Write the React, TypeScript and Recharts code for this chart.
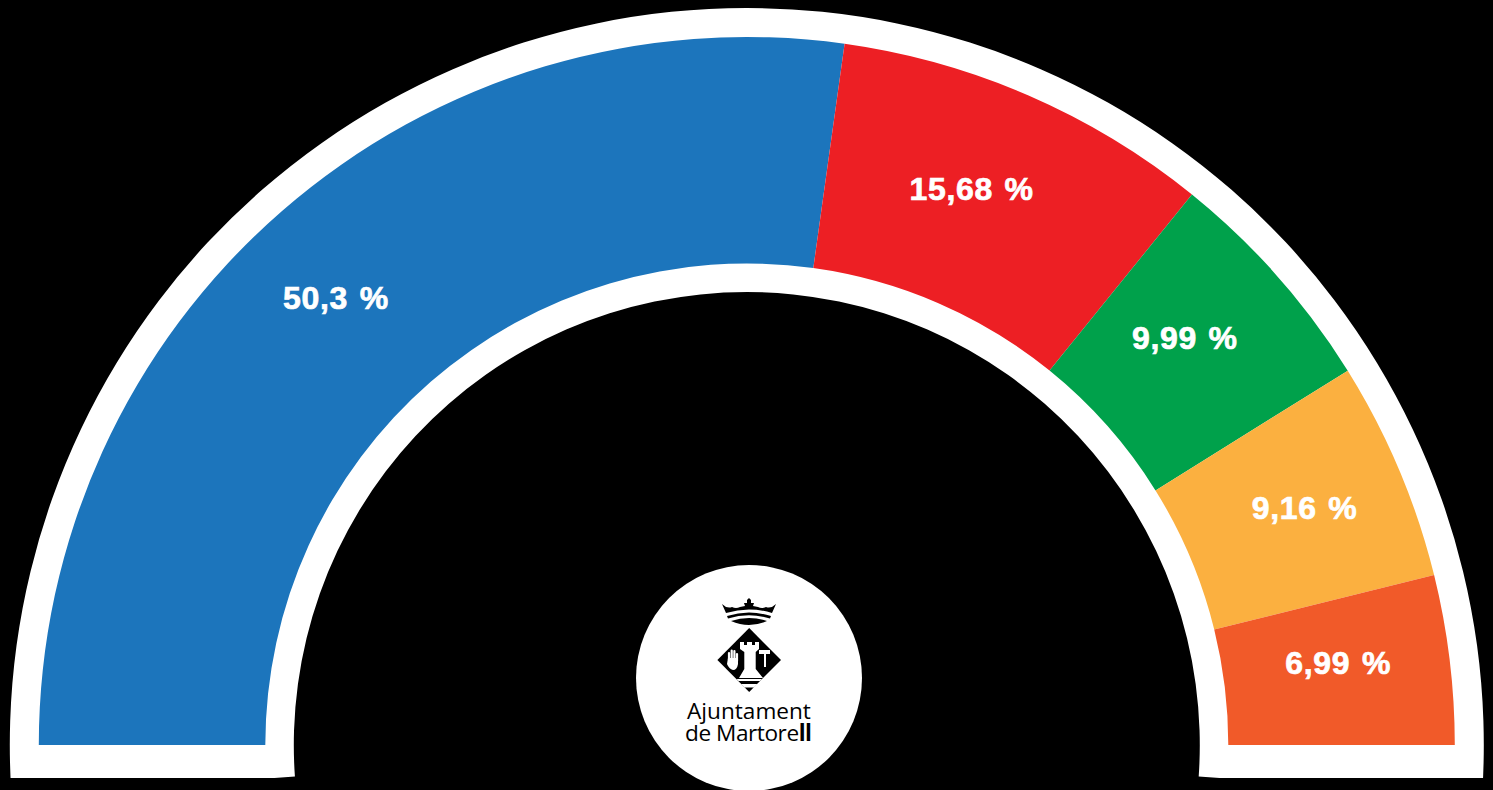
import React from "react";
import { PieChart, Pie, Cell } from "recharts";

const parties = ["Blau", "Vermell", "Verd", "Groc", "Taronja"];
// arc sizes, they differ a little from the printed labels
const shares = [50.14, 15.88, 9.79, 9.23, 7.11];
const shareLabels = ["50,3 %", "15,68 %", "9,99 %", "9,16 %", "6,99 %"];
const colors = ["#1c75bc", "#ed1f24", "#00a14b", "#fbb040", "#f15a29"];

const chartData = parties.map((name, i) => ({ name, value: shares[i], label: shareLabels[i] }));
const ringData = [{ name: "ring", value: 1 }];

const CX = 746.8;
const CY = 745;
const labelAngles = [132.6, 68, 42.9, 23, 7.9];
const labelRadii = [607, 600, 598, 606, 597];

function renderShare(props: any) {
  const angle = (labelAngles[props.index] * Math.PI) / 180;
  const x = props.cx + labelRadii[props.index] * Math.cos(angle);
  const y = props.cy - labelRadii[props.index] * Math.sin(angle);
  return (
    <text
      x={x}
      y={y}
      fill="#fff"
      stroke="#fff"
      strokeWidth={0.7}
      textAnchor="middle"
      dominantBaseline="central"
      fontFamily="Liberation Sans"
      fontWeight={700}
      fontSize={32}
      letterSpacing={0.7}
      wordSpacing={2}
    >
      {props.payload.label}
    </text>
  );
}

function Crest() {
  return (
    <svg width={1493} height={790} style={{ position: "absolute", left: 0, top: 0 }}>
      {/* cuts the ring off flat at the bottom */}
      <rect x={0} y={778} width={1493} height={12} fill="#000" />
      <circle cx={749} cy={678} r={113} fill="#fff" />
      {/* crown */}
      <path
        d="M722 604 Q727 609 732 607 Q736 609 740 607 L745 606 L744 603 L747 603 L747 600 L749 598 L751 600 L751 603 L754 603 L753 606 L758 607 Q762 609 766 607 Q771 609 776 604 L772 613 Q749 606 726 613 Z"
        fill="#000"
      />
      <path d="M727 616 Q749 609 771 616 L770 618.5 Q749 612 728 618.5 Z" fill="#000" />
      <path d="M731 621 Q749 615 767 621 Q749 629 731 621 Z" fill="#000" />
      {/* shield */}
      <path d="M749.2 628 L781 660 L749.2 692 L717.4 660 Z" fill="#000" />
      {/* tower */}
      <path
        d="M740 642 h4 v3 h3 v-3 h5 v3 h3 v-3 h4 v7 l-3.3 3 L755.7 669 L763 678 L739 678 L744.3 669 L744.3 652 L740 649 Z"
        fill="#fff"
      />
      <path d="M736.5 679 L762 679 L760 681 L738.5 681 Z" fill="#fff" />
      <path d="M741 684 L757.5 684 L754 687.5 L744.5 687.5 Z" fill="#fff" />
      {/* hand */}
      <path
        d="M729 660 V653 M731.7 660 V650.5 M734.4 660 V651 M737 661 V654"
        stroke="#fff"
        strokeWidth={2.2}
        strokeLinecap="round"
        fill="none"
      />
      <path d="M728 658 H738 V664 Q737 670 733 670 Q729 669 727 664 Z" fill="#fff" />
      {/* hammer */}
      <path d="M759 650 L770 650 L770 654 L766 654 L766 667 L764 667 L764 654 L759 654 Z" fill="#fff" />
      <text x={749} y={719} fontFamily="Open Sans" fontSize={22.6} fill="#000" textAnchor="middle">
        Ajuntament
      </text>
      <text
        x={748.5}
        y={741}
        fontFamily="Open Sans"
        fontSize={22.6}
        fill="#000"
        textAnchor="middle"
        textLength={127}
        lengthAdjust="spacing"
      >
        de Martore<tspan fontWeight={700}>ll</tspan>
      </text>
    </svg>
  );
}

export default function App() {
  return (
    <div style={{ position: "fixed", left: 0, top: 0, width: 1493, height: 790, background: "#000" }}>
      <PieChart width={1493} height={790} margin={{ top: 0, right: 0, bottom: 0, left: 0 }}>
        <Pie
          data={ringData}
          dataKey="value"
          cx={CX}
          cy={CY}
          startAngle={-4}
          endAngle={184}
          innerRadius={453}
          outerRadius={737}
          fill="#fff"
          stroke="none"
          isAnimationActive={false}
        />
        <Pie
          data={chartData}
          dataKey="value"
          cx={CX}
          cy={CY}
          startAngle={180}
          endAngle={0}
          innerRadius={481.5}
          outerRadius={708}
          stroke="none"
          label={renderShare}
          labelLine={false}
          isAnimationActive={false}
        >
          {chartData.map((d, i) => (
            <Cell key={d.name} fill={colors[i]} />
          ))}
        </Pie>
      </PieChart>
      <Crest />
    </div>
  );
}
